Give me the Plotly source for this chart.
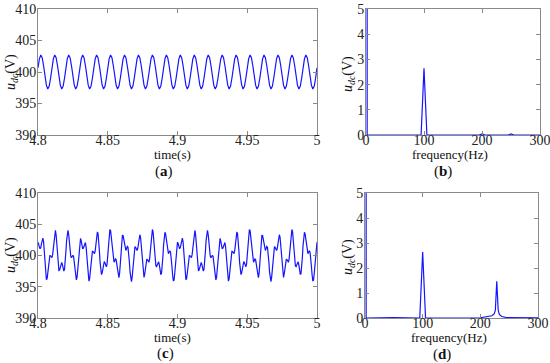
import plotly.graph_objects as go

# ---------------- data ----------------
# (a) DC-link voltage, samples every 1 ms starting at t = 4.8 s
t_start = 4.8
step_a = 0.001
udc_a = [
    400.67, 402.08, 402.69, 402.28, 400.99, 399.33, 397.92, 397.31, 397.72, 399.01,
    400.67, 402.08, 402.69, 402.28, 400.99, 399.33, 397.92, 397.31, 397.72, 399.01,
    400.67, 402.08, 402.69, 402.28, 400.99, 399.33, 397.92, 397.31, 397.72, 399.01,
    400.67, 402.08, 402.69, 402.28, 400.99, 399.33, 397.92, 397.31, 397.72, 399.01,
    400.67, 402.08, 402.69, 402.28, 400.99, 399.33, 397.92, 397.31, 397.72, 399.01,
    400.67, 402.08, 402.69, 402.28, 400.99, 399.33, 397.92, 397.31, 397.72, 399.01,
    400.67, 402.08, 402.69, 402.28, 400.99, 399.33, 397.92, 397.31, 397.72, 399.01,
    400.67, 402.08, 402.69, 402.28, 400.99, 399.33, 397.92, 397.31, 397.72, 399.01,
    400.67, 402.08, 402.69, 402.28, 400.99, 399.33, 397.92, 397.31, 397.72, 399.01,
    400.67, 402.08, 402.69, 402.28, 400.99, 399.33, 397.92, 397.31, 397.72, 399.01,
    400.67, 402.08, 402.69, 402.28, 400.99, 399.33, 397.92, 397.31, 397.72, 399.01,
    400.67, 402.08, 402.69, 402.28, 400.99, 399.33, 397.92, 397.31, 397.72, 399.01,
    400.67, 402.08, 402.69, 402.28, 400.99, 399.33, 397.92, 397.31, 397.72, 399.01,
    400.67, 402.08, 402.69, 402.28, 400.99, 399.33, 397.92, 397.31, 397.72, 399.01,
    400.67, 402.08, 402.69, 402.28, 400.99, 399.33, 397.92, 397.31, 397.72, 399.01,
    400.67, 402.08, 402.69, 402.28, 400.99, 399.33, 397.92, 397.31, 397.72, 399.01,
    400.67, 402.08, 402.69, 402.28, 400.99, 399.33, 397.92, 397.31, 397.72, 399.01,
    400.67, 402.08, 402.69, 402.28, 400.99, 399.33, 397.92, 397.31, 397.72, 399.01,
    400.67, 402.08, 402.69, 402.28, 400.99, 399.33, 397.92, 397.31, 397.72, 399.01,
    400.67, 402.08, 402.69, 402.28, 400.99, 399.33, 397.92, 397.31, 397.72, 399.01,
    400.67,
]

# (c) DC-link voltage with 230 Hz content, samples every 0.5 ms from t = 4.8 s
step_c = 0.0005
udc_c = [
    402.14, 401.89, 401.37, 401.07, 401.26, 401.89, 402.56, 402.78, 402.17, 400.75,
    398.88, 397.18, 396.21, 396.24, 397.11, 398.36, 399.45, 399.98, 399.96, 399.69,
    399.64, 400.17, 401.28, 402.66, 403.74, 404.01, 403.27, 401.72, 399.87, 398.36,
    397.60, 397.65, 398.19, 398.74, 398.89, 398.53, 397.91, 397.52, 397.80, 398.91,
    400.63, 402.43, 403.69, 404.01, 403.35, 402.08, 400.76, 399.88, 399.63, 399.83,
    400.05, 399.85, 399.05, 397.82, 396.66, 396.10, 396.50, 397.83, 399.67, 401.42,
    402.52, 402.75, 402.29, 401.58, 401.11, 401.15, 401.60, 402.08, 402.08, 401.31,
    399.82, 398.03, 396.54, 395.89, 396.26, 397.43, 398.90, 400.10, 400.68, 400.65,
    400.36, 400.29, 400.75, 401.73, 402.88, 403.66, 403.59, 402.55, 400.81, 398.93,
    397.51, 396.95, 397.23, 398.00, 398.73, 399.04, 398.83, 398.39, 398.18, 398.62,
    399.81, 401.49, 403.10, 404.07, 404.03, 403.04, 401.52, 400.06, 399.15, 398.92,
    399.17, 399.44, 399.31, 398.63, 397.60, 396.71, 396.47, 397.18, 398.72, 400.64,
    402.31, 403.21, 403.19, 402.47, 401.55, 400.92, 400.81, 401.12, 401.44, 401.31,
    400.45, 398.98, 397.33, 396.13, 395.82, 396.54, 398.00, 399.64, 400.88, 401.42,
    401.32, 400.95, 400.78, 401.12, 401.94, 402.84, 403.32, 402.96, 401.69, 399.84,
    398.00, 396.77, 396.48, 397.04, 398.05, 398.98, 399.42, 399.33, 399.01, 398.92,
    399.43, 400.62, 402.18, 403.55, 404.17, 403.78, 402.48, 400.76, 399.24, 398.36,
    398.23, 398.60, 398.98, 398.98, 398.45, 397.64, 397.01, 397.06, 398.00, 399.68,
    401.59, 403.09, 403.73, 403.40, 402.41, 401.27, 400.49, 400.29, 400.51, 400.74,
    400.54, 399.67, 398.29, 396.87, 395.98, 396.03, 397.08, 398.77, 400.50, 401.72,
    402.14, 401.89, 401.37, 401.07, 401.26, 401.89, 402.56, 402.78, 402.17, 400.75,
    398.88, 397.18, 396.21, 396.24, 397.11, 398.36, 399.45, 399.98, 399.96, 399.69,
    399.64, 400.17, 401.28, 402.66, 403.74, 404.01, 403.27, 401.72, 399.87, 398.36,
    397.60, 397.65, 398.19, 398.74, 398.89, 398.53, 397.91, 397.52, 397.80, 398.91,
    400.63, 402.43, 403.69, 404.01, 403.35, 402.08, 400.76, 399.88, 399.63, 399.83,
    400.05, 399.85, 399.05, 397.82, 396.66, 396.10, 396.50, 397.83, 399.67, 401.42,
    402.52, 402.75, 402.29, 401.58, 401.11, 401.15, 401.60, 402.08, 402.08, 401.31,
    399.82, 398.03, 396.54, 395.89, 396.26, 397.43, 398.90, 400.10, 400.68, 400.65,
    400.36, 400.29, 400.75, 401.73, 402.88, 403.66, 403.59, 402.55, 400.81, 398.93,
    397.51, 396.95, 397.23, 398.00, 398.73, 399.04, 398.83, 398.39, 398.18, 398.62,
    399.81, 401.49, 403.10, 404.07, 404.03, 403.04, 401.52, 400.06, 399.15, 398.92,
    399.17, 399.44, 399.31, 398.63, 397.60, 396.71, 396.47, 397.18, 398.72, 400.64,
    402.31, 403.21, 403.19, 402.47, 401.55, 400.92, 400.81, 401.12, 401.44, 401.31,
    400.45, 398.98, 397.33, 396.13, 395.82, 396.54, 398.00, 399.64, 400.88, 401.42,
    401.32, 400.95, 400.78, 401.12, 401.94, 402.84, 403.32, 402.96, 401.69, 399.84,
    398.00, 396.77, 396.48, 397.04, 398.05, 398.98, 399.42, 399.33, 399.01, 398.92,
    399.43, 400.62, 402.18, 403.55, 404.17, 403.78, 402.48, 400.76, 399.24, 398.36,
    398.23, 398.60, 398.98, 398.98, 398.45, 397.64, 397.01, 397.06, 398.00, 399.68,
    401.59, 403.09, 403.73, 403.40, 402.41, 401.27, 400.49, 400.29, 400.51, 400.74,
    400.54, 399.67, 398.29, 396.87, 395.98, 396.03, 397.08, 398.77, 400.50, 401.72,
    402.14,
]

# (b) spectrum of (a)
freq_b = [0, 2, 95, 100, 105, 195, 200, 205, 245, 250, 255, 300]
amp_b = [400, 0, 0, 2.65, 0, 0, 0.04, 0, 0, 0.04, 0, 0]

# (d) spectrum of (c)
freq_d = [0, 2, 50, 95, 100, 105, 200, 212, 220, 224, 226, 228.5, 231, 233, 237, 245, 300]
amp_d = [400, 0, 0.02, 0, 2.64, 0, 0.01, 0.04, 0.09, 0.16, 0.3, 1.47, 0.3, 0.14, 0.06, 0.02, 0.01]

time_ticks = [4.8, 4.85, 4.9, 4.95, 5]
time_tick_text = ["4.8", "4.85", "4.9", "4.95", "5"]
volt_ticks = [390, 395, 400, 405, 410]
freq_ticks = [0, 100, 200, 300]
amp_ticks = [0, 1, 2, 3, 4, 5]

panel_labels = ["(<b>a</b>)", "(<b>b</b>)", "(<b>c</b>)", "(<b>d</b>)"]
y_title = "<i>u</i><sub><i>dc</i></sub>(V)"

# ---------------- figure ----------------
W, H = 550, 363
SERIF = "Liberation Serif, Times New Roman, Times, serif"
LINE = "#1414ff"

def px(x):
    return x / W

def py(y):
    return 1 - y / H

fig = go.Figure()
fig.add_trace(go.Scatter(y=udc_a, x0=t_start, dx=step_a, mode="lines",
                         line=dict(color=LINE, width=1.2), xaxis="x", yaxis="y"))
fig.add_trace(go.Scatter(x=freq_b, y=amp_b, mode="lines",
                         line=dict(color=LINE, width=1.2), xaxis="x2", yaxis="y2"))
fig.add_trace(go.Scatter(y=udc_c, x0=t_start, dx=step_c, mode="lines",
                         line=dict(color=LINE, width=1.2), xaxis="x3", yaxis="y3"))
fig.add_trace(go.Scatter(x=freq_d, y=amp_d, mode="lines",
                         line=dict(color=LINE, width=1.2), xaxis="x4", yaxis="y4"))

common = dict(showline=True, linecolor="#8a8a8a", linewidth=1, mirror="ticks",
              ticks="inside", ticklen=4, tickcolor="#8a8a8a", tickwidth=1,
              showgrid=False, zeroline=False, fixedrange=True, automargin=False,
              ticklabeloverflow="allow",
              tickfont=dict(family=SERIF, size=14, color="#222"))
xcommon = dict(ticklabelstandoff=-8, **common)
ycommon = dict(ticklabelstandoff=-2, **common)

top = [py(135), py(9)]
bot = [py(318), py(193)]
left = [px(38), px(317)]
right_top = [px(366), px(540)]
right_bot = [px(365), px(538)]

fig.update_layout(
    template="none",
    width=W, height=H, margin=dict(l=0, r=0, t=0, b=0, autoexpand=False),
    paper_bgcolor="white", plot_bgcolor="white", showlegend=False,
    font=dict(family=SERIF),
    xaxis=dict(domain=left, anchor="y", range=[4.8, 5.0], tickvals=time_ticks,
               ticktext=time_tick_text, **xcommon),
    yaxis=dict(domain=top, anchor="x", range=[390, 410], tickvals=volt_ticks, **ycommon),
    xaxis2=dict(domain=right_top, anchor="y2", range=[0, 300], tickvals=freq_ticks, **xcommon),
    yaxis2=dict(domain=top, anchor="x2", range=[0, 5], tickvals=amp_ticks, **ycommon),
    xaxis3=dict(domain=left, anchor="y3", range=[4.8, 5.0], tickvals=time_ticks,
                ticktext=time_tick_text, **xcommon),
    yaxis3=dict(domain=bot, anchor="x3", range=[390, 410], tickvals=volt_ticks, **ycommon),
    xaxis4=dict(domain=right_bot, anchor="y4", range=[0, 300], tickvals=freq_ticks, **xcommon),
    yaxis4=dict(domain=bot, anchor="x4", range=[0, 5], tickvals=amp_ticks, **ycommon),
)

def note(text, x, y, size=13, angle=0):
    fig.add_annotation(text=text, x=px(x), y=py(y), xref="paper", yref="paper",
                       showarrow=False, textangle=angle, xanchor="center", yanchor="middle",
                       font=dict(family=SERIF, size=size, color="#111"))

# axis titles
note("time(s)", 172, 154)
note("frequency(Hz)", 450, 154)
note("time(s)", 172, 337)
note("frequency(Hz)", 449, 337)
note(y_title, 11, 72, size=14, angle=-90)
note(y_title, 348, 74, size=14, angle=-90)
note(y_title, 11, 255, size=14, angle=-90)
note(y_title, 348, 257, size=14, angle=-90)

# panel labels
note(panel_labels[0], 164, 171, size=15)
note(panel_labels[1], 443, 171, size=15)
note(panel_labels[2], 165, 353, size=15)
note(panel_labels[3], 442, 354, size=15)

fig.write_html(
    "out.html",
    config={"displayModeBar": False},
    post_script="document.body.style.margin='0';document.body.style.padding='0';"
                "document.documentElement.style.overflow='hidden';",
)
